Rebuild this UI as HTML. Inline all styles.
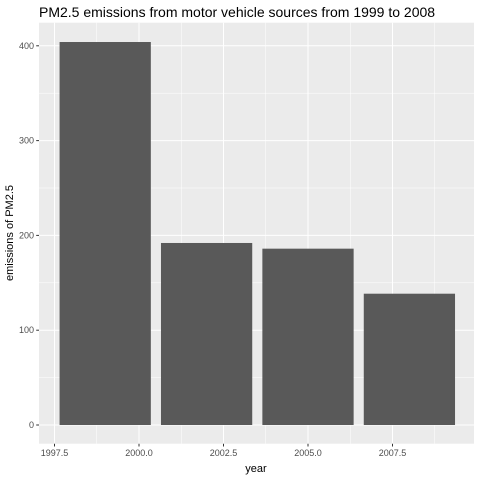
<!DOCTYPE html>
<html><head><meta charset="utf-8"><style>
body{margin:0;background:#fff}
svg{display:block;font-family:"Liberation Sans",Arial,sans-serif}
</style></head><body>
<svg id="chart" width="480" height="480">
<text x="39" y="17" font-size="14" fill="#000">PM2.5 emissions from motor vehicle sources from 1999 to 2008</text>
<rect x="39" y="22.7" width="435" height="421" fill="#ebebeb"/>
<g id="grid"></g><g id="bars"></g><g id="axes"></g>
<text x="256" y="472" font-size="11" text-anchor="middle" fill="#000">year</text>
<text transform="translate(13,233) rotate(-90)" font-size="11" text-anchor="middle" fill="#000">emissions of PM2.5</text>
</svg>
<script>
const years=[1999,2002,2005,2008];
const values=[404,192,186,138.5];
const xTicks=[1997.5,2000,2002.5,2005,2007.5];
const xTickLabels=["1997.5","2000.0","2002.5","2005.0","2007.5"];
const yTicks=[0,100,200,300,400];
const ns="http://www.w3.org/2000/svg";
const x=v=>54.5+(v-1997.5)*33.8;
const y=v=>425-v*0.948;
function mk(t,a,p){const e=document.createElementNS(ns,t);for(const k in a)e.setAttribute(k,a[k]);document.getElementById(p).appendChild(e);return e;}
for(let i=0;i<xTicks.length;i++){const m=xTicks[i]+1.25;if(x(m)<474){const l=mk('line',{x1:x(m),x2:x(m),y1:22.7,y2:443.7,stroke:'#fff','stroke-width':0.5},'grid');}}
for(let i=0;i<yTicks.length;i++){const m=yTicks[i]+50;if(y(m)>22.7){const l=mk('line',{x1:39,x2:474,y1:y(m),y2:y(m),stroke:'#fff','stroke-width':0.5},'grid');}}
xTicks.forEach((t,i)=>{
 const l=mk('line',{x1:x(t),x2:x(t),y1:22.7,y2:443.7,stroke:'#fff','stroke-width':1},'grid');
 
 const tk=mk('line',{x1:x(t),x2:x(t),y1:443.7,y2:446.5,stroke:'#333','stroke-width':1},'axes');
 
 const tx=mk('text',{x:x(t),y:456,'font-size':9,'text-anchor':'middle',fill:'#4d4d4d'},'axes');
 tx.textContent=xTickLabels[i];
 
});
yTicks.forEach(t=>{
 const l=mk('line',{x1:39,x2:474,y1:y(t),y2:y(t),stroke:'#fff','stroke-width':1},'grid');
 
 const tk=mk('line',{x1:36.2,x2:39,y1:y(t),y2:y(t),stroke:'#333','stroke-width':1},'axes');
 
 const tx=mk('text',{x:34,y:y(t)+3,'font-size':9,'text-anchor':'end',fill:'#4d4d4d'},'axes');
 tx.textContent=String(t);
 
});
years.forEach((yr,i)=>{
 const r=mk('rect',{x:x(yr-1.35),y:y(values[i]),width:x(yr+1.35)-x(yr-1.35),height:y(0)-y(values[i]),fill:'#595959'},'bars');
 
 
});
</script>
</body></html>
